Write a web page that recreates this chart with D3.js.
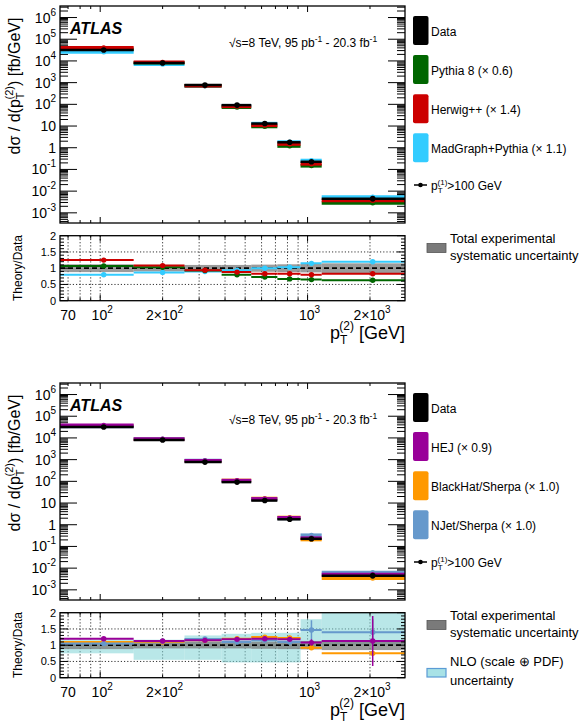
<!DOCTYPE html>
<html>
<head>
<meta charset="utf-8">
<script src="https://cdn.jsdelivr.net/npm/d3@7"></script>
<style>
  body { margin: 0; background: #fff; }
  svg { display: block; font-family: "Liberation Sans", Arial, Helvetica, sans-serif; }
</style>
</head>
<body>
<div id="chart"></div>
<script>
// binning in pT(2) [GeV]
const binEdges = [64, 145, 255, 385, 535, 715, 925, 1170, 2950];
const binCenters = [104, 200, 320, 457, 622, 820, 1044, 2061];

// measured cross section [fb/GeV]
const dataXsec = [3.2e4, 8.0e3, 770, 92, 13, 1.78, 0.225, 0.0045];
const dataRelErr = [0.05, 0.05, 0.05, 0.06, 0.08, 0.1, 0.12, 0.25];
const systRelErr = [0.12, 0.1, 0.1, 0.1, 0.11, 0.12, 0.13, 0.15];

// top panel: LO MC generators, theory/data
const pythiaRatio = [1.07, 1.03, 0.93, 0.8, 0.73, 0.67, 0.65, 0.63];
const herwigRatio = [1.25, 1.08, 0.94, 0.88, 0.83, 0.83, 0.8, 0.83];
const madgraphRatio = [0.8, 0.87, 0.9, 0.94, 1.0, 1.03, 1.15, 1.2];
const mcRatioErr = [0.02, 0.02, 0.02, 0.02, 0.02, 0.03, 0.03, 0.05];

// bottom panel: NLO / HEJ, theory/data
const hejRatio = [1.2, 1.13, 1.15, 1.18, 1.2, 1.18, 1.08, 1.13];
const hejErr = [0.02, 0.02, 0.02, 0.03, 0.03, 0.04, 0.1, 0.77];
const blackhatRatio = [1.1, 1.1, 1.15, 1.2, 1.25, 1.22, 0.92, 0.75];
const blackhatErr = [0.01, 0.01, 0.02, 0.02, 0.03, 0.03, 0.05, 0.05];
const njetRatio = [1.05, 1.12, 1.19, 1.1, 1.15, 1.1, 1.47, 1.4];
const njetErr = [0.02, 0.03, 0.03, 0.04, 0.05, 0.05, 0.3, 0.4];
const nloLow = [0.75, 0.55, 0.55, 0.47, 0.47, 0.47, 0.9, 1.0];
const nloHigh = [1.18, 1.17, 1.3, 1.35, 1.38, 1.38, 1.8, 2.0];

const xTickLabels = [
  { v: 70, base: '70', exp: '' },
  { v: 100, base: '10', exp: '2' },
  { v: 200, base: '2×10', exp: '2' },
  { v: 1000, base: '10', exp: '3' },
  { v: 2000, base: '2×10', exp: '3' }
];

const panels = [
  {
    oy: 0,
    series: [
      { name: 'MadGraph+Pythia (× 1.1)', color: '#33ccff', ratio: madgraphRatio, err: mcRatioErr },
      { name: 'Pythia 8 (× 0.6)', color: '#006600', ratio: pythiaRatio, err: mcRatioErr },
      { name: 'Herwig++ (× 1.4)', color: '#cc0000', ratio: herwigRatio, err: mcRatioErr }
    ],
    legendOrder: [1, 2, 0],
    nlo: false
  },
  {
    oy: 377,
    series: [
      { name: 'BlackHat/Sherpa (× 1.0)', color: '#ff9900', ratio: blackhatRatio, err: blackhatErr },
      { name: 'NJet/Sherpa (× 1.0)', color: '#6699cc', ratio: njetRatio, err: njetErr },
      { name: 'HEJ (× 0.9)', color: '#990099', ratio: hejRatio, err: hejErr }
    ],
    legendOrder: [2, 0, 1],
    nlo: true
  }
];

const W = 584, H = 725;
const svg = d3.select('#chart').append('svg').attr('width', W).attr('height', H);

const x = d3.scaleLog().domain([64, 2950]).range([60, 405]);
const yMain = d3.scaleLog().domain([3.4e-4, 3.4e6]).range([223, 6]);
const yRat = d3.scaleLinear().domain([0, 2]).range([300.7, 235.7]);

function rich(sel, px, py, parts, size, anchor) {
  const t = sel.append('text').attr('x', px).attr('y', py)
    .attr('font-size', size).attr('text-anchor', anchor || 'start');
  parts.forEach(p => {
    const s = t.append('tspan').text(p.t);
    if (p.s) s.attr('font-size', p.s);
    if (p.dy) s.attr('dy', p.dy);
    if (p.dx) s.attr('dx', p.dx);
  });
  return t;
}

function logTicks(lo, hi) {
  const out = [];
  for (let e = Math.floor(Math.log10(lo)); e <= Math.ceil(Math.log10(hi)); e++) {
    for (let m = 1; m <= 9; m++) {
      const v = m * Math.pow(10, e);
      if (v >= lo && v <= hi) out.push({ v, major: m === 1 });
    }
  }
  return out;
}

const xt = logTicks(64, 2950);

function drawPanel(p, idx) {
  const g = svg.append('g').attr('transform', `translate(0,${p.oy})`);
  const clipId = 'clipR' + idx;
  g.append('clipPath').attr('id', clipId).append('rect')
    .attr('x', 60).attr('y', 235.7).attr('width', 345).attr('height', 65);

  // ---------- main panel ----------
  const m = g.append('g');
  // y ticks
  logTicks(3.4e-4, 3.4e6).forEach(t => {
    const yy = yMain(t.v), len = t.major ? 17 : 8;
    m.append('line').attr('x1', 60).attr('x2', 60 + len).attr('y1', yy).attr('y2', yy)
      .attr('stroke', '#000').attr('stroke-width', 1);
    m.append('line').attr('x1', 405).attr('x2', 405 - len).attr('y1', yy).attr('y2', yy)
      .attr('stroke', '#000').attr('stroke-width', 1);
  });
  xt.forEach(t => {
    const xx = x(t.v), len = t.major ? 6 : 3;
    m.append('line').attr('x1', xx).attr('x2', xx).attr('y1', 223).attr('y2', 223 - len).attr('stroke', '#000');
    m.append('line').attr('x1', xx).attr('x2', xx).attr('y1', 6).attr('y2', 6 + len).attr('stroke', '#000');
  });
  // y tick labels
  for (let e = -3; e <= 6; e++) {
    const yy = yMain(Math.pow(10, e)) + 5;
    if (e === 0) rich(m, 56, yy, [{ t: '1' }], 14, 'end');
    else if (e === 1) rich(m, 56, yy, [{ t: '10' }], 14, 'end');
    else rich(m, 56, yy, [{ t: '10' }, { t: String(e), s: 10, dy: -7 }], 14, 'end');
  }

  // theory bands
  p.series.forEach(s => {
    s.ratio.forEach((r, i) => {
      const yy = yMain(dataXsec[i] * r);
      m.append('line').attr('x1', x(binEdges[i])).attr('x2', x(binEdges[i + 1]))
        .attr('y1', yy).attr('y2', yy).attr('stroke', s.color).attr('stroke-width', 3.5);
      m.append('circle').attr('cx', x(binCenters[i])).attr('cy', yy).attr('r', 2.5).attr('fill', s.color);
    });
  });
  // data
  dataXsec.forEach((d, i) => {
    const yy = yMain(d);
    m.append('line').attr('x1', x(binEdges[i])).attr('x2', x(binEdges[i + 1]))
      .attr('y1', yy).attr('y2', yy).attr('stroke', '#000').attr('stroke-width', 2.5);
    m.append('line').attr('x1', x(binCenters[i])).attr('x2', x(binCenters[i]))
      .attr('y1', yMain(d * (1 + dataRelErr[i]))).attr('y2', yMain(d * (1 - dataRelErr[i])))
      .attr('stroke', '#000').attr('stroke-width', 1.5);
    m.append('circle').attr('cx', x(binCenters[i])).attr('cy', yy).attr('r', 2.8).attr('fill', '#000');
  });
  m.append('rect').attr('x', 60).attr('y', 6).attr('width', 345).attr('height', 217)
    .attr('fill', 'none').attr('stroke', '#000').attr('stroke-width', 1.3);

  // labels
  m.append('text').attr('x', 70).attr('y', 34).attr('font-size', 16)
    .attr('font-weight', 'bold').attr('font-style', 'italic').text('ATLAS');
  rich(m, 229, 47, [{ t: '√s=8 TeV, 95 pb' }, { t: '-1', s: 8.5, dy: -5 }, { t: ' - 20.3 fb', dy: 5 }, { t: '-1', s: 8.5, dy: -5 }], 12, 'start');

  rich(m, 0, 0, [{ t: 'dσ / d(p' }, { t: 'T', s: 11, dy: 4 }, { t: '(2)', s: 11, dy: -11, dx: -7 }, { t: ') [fb/GeV]', dy: 7 }], 16, 'middle')
    .attr('transform', 'translate(20,86) rotate(-90)');

  // legend
  const lg = g.append('g');
  const rowY = [16, 55, 94.3, 133.3];
  lg.append('rect').attr('x', 413).attr('y', rowY[0]).attr('width', 15.5).attr('height', 29).attr('rx', 2).attr('fill', '#000');
  lg.append('text').attr('x', 431).attr('y', rowY[0] + 19.5).attr('font-size', 12).text('Data');
  p.legendOrder.forEach((si, k) => {
    const s = p.series[si];
    lg.append('rect').attr('x', 413).attr('y', rowY[k + 1]).attr('width', 15.5).attr('height', 29).attr('rx', 2).attr('fill', s.color);
    lg.append('text').attr('x', 431).attr('y', rowY[k + 1] + 19.5).attr('font-size', 12).text(s.name);
  });
  lg.append('line').attr('x1', 414).attr('x2', 427).attr('y1', 185).attr('y2', 185).attr('stroke', '#000').attr('stroke-width', 1.5);
  lg.append('circle').attr('cx', 420.5).attr('cy', 185).attr('r', 2.3).attr('fill', '#000');
  rich(lg, 431, 190, [{ t: 'p' }, { t: 'T', s: 8, dy: 3 }, { t: '(1)', s: 8, dy: -8, dx: -5 }, { t: '>100 GeV', dy: 5 }], 12, 'start');

  // ---------- ratio panel ----------
  const r = g.append('g');
  // grid
  xt.forEach(t => {
    r.append('line').attr('x1', x(t.v)).attr('x2', x(t.v)).attr('y1', 235.7).attr('y2', 300.7)
      .attr('stroke', '#000').attr('stroke-width', 0.8).attr('stroke-dasharray', '1.2,2');
  });
  [0.5, 1.5].forEach(v => {
    r.append('line').attr('x1', 60).attr('x2', 405).attr('y1', yRat(v)).attr('y2', yRat(v))
      .attr('stroke', '#000').attr('stroke-width', 0.8).attr('stroke-dasharray', '1.2,2');
  });
  const rc = r.append('g').attr('clip-path', `url(#${clipId})`);
  if (p.nlo) {
    nloLow.forEach((lo, i) => {
      rc.append('rect').attr('x', x(binEdges[i])).attr('width', x(binEdges[i + 1]) - x(binEdges[i]))
        .attr('y', yRat(nloHigh[i])).attr('height', yRat(lo) - yRat(nloHigh[i]))
        .attr('fill', '#7fd3d6').attr('fill-opacity', 0.55);
    });
  }
  systRelErr.forEach((e, i) => {
    rc.append('rect').attr('x', x(binEdges[i])).attr('width', x(binEdges[i + 1]) - x(binEdges[i]))
      .attr('y', yRat(1 + e)).attr('height', yRat(1 - e) - yRat(1 + e))
      .attr('fill', '#7a7a7a').attr('fill-opacity', 0.75);
  });
  rc.append('line').attr('x1', 60).attr('x2', 405).attr('y1', yRat(1)).attr('y2', yRat(1))
    .attr('stroke', '#000').attr('stroke-width', 1.8).attr('stroke-dasharray', '5,3');
  p.series.forEach(s => {
    s.ratio.forEach((v, i) => {
      const yy = yRat(v);
      rc.append('line').attr('x1', x(binEdges[i])).attr('x2', x(binEdges[i + 1]))
        .attr('y1', yy).attr('y2', yy).attr('stroke', s.color).attr('stroke-width', 2);
      rc.append('line').attr('x1', x(binCenters[i])).attr('x2', x(binCenters[i]))
        .attr('y1', yRat(v + s.err[i])).attr('y2', yRat(v - s.err[i]))
        .attr('stroke', s.color).attr('stroke-width', 1.5);
      rc.append('circle').attr('cx', x(binCenters[i])).attr('cy', yy).attr('r', 2.7).attr('fill', s.color);
    });
  });
  // ticks
  d3.range(0, 2.001, 0.1).forEach(v => {
    const major = Math.abs(v * 2 - Math.round(v * 2)) < 1e-6;
    const len = major ? 8 : 4, yy = yRat(v);
    r.append('line').attr('x1', 60).attr('x2', 60 + len).attr('y1', yy).attr('y2', yy).attr('stroke', '#000');
    r.append('line').attr('x1', 405).attr('x2', 405 - len).attr('y1', yy).attr('y2', yy).attr('stroke', '#000');
  });
  xt.forEach(t => {
    const xx = x(t.v), len = t.major ? 6 : 3;
    r.append('line').attr('x1', xx).attr('x2', xx).attr('y1', 300.7).attr('y2', 300.7 - len).attr('stroke', '#000');
    r.append('line').attr('x1', xx).attr('x2', xx).attr('y1', 235.7).attr('y2', 235.7 + len).attr('stroke', '#000');
  });
  r.append('rect').attr('x', 60).attr('y', 235.7).attr('width', 345).attr('height', 65)
    .attr('fill', 'none').attr('stroke', '#000').attr('stroke-width', 1.3);
  ['0', '0.5', '1', '1.5', '2'].forEach(lbl => {
    r.append('text').attr('x', 56).attr('y', yRat(+lbl) + 4).attr('font-size', 11)
      .attr('text-anchor', 'end').text(lbl);
  });
  r.append('text').attr('transform', 'translate(22,268) rotate(-90)').attr('text-anchor', 'middle')
    .attr('font-size', 12).text('Theory/Data');
  xTickLabels.forEach(t => {
    const parts = [{ t: t.base }];
    if (t.exp) parts.push({ t: t.exp, s: 10, dy: -7 });
    rich(r, x(t.v) + (t.exp ? 2 : 0), 320, parts, 14, 'middle');
  });
  rich(r, 405, 339, [{ t: 'p' }, { t: 'T', s: 12, dy: 5 }, { t: '(2)', s: 12, dy: -14, dx: -8 }, { t: ' [GeV]', dy: 9 }], 18, 'end');

  // ratio legend
  r.append('rect').attr('x', 427).attr('y', 243.5).attr('width', 19).attr('height', 9)
    .attr('fill', '#7a7a7a').attr('stroke', '#555').attr('stroke-width', 0.8);
  r.append('text').attr('x', 450).attr('y', 243).attr('font-size', 13).text('Total experimental');
  r.append('text').attr('x', 450).attr('y', 259.5).attr('font-size', 13).text('systematic uncertainty');
  if (p.nlo) {
    r.append('rect').attr('x', 427).attr('y', 291.5).attr('width', 19).attr('height', 8.5)
      .attr('fill', '#a8e2e6').attr('stroke', '#5b9bd5').attr('stroke-width', 1.2);
    r.append('text').attr('x', 450).attr('y', 289).attr('font-size', 13).text('NLO (scale ⊕ PDF)');
    r.append('text').attr('x', 450).attr('y', 307.5).attr('font-size', 13).text('uncertainty');
  }
}

panels.forEach(drawPanel);
</script>
</body>
</html>
